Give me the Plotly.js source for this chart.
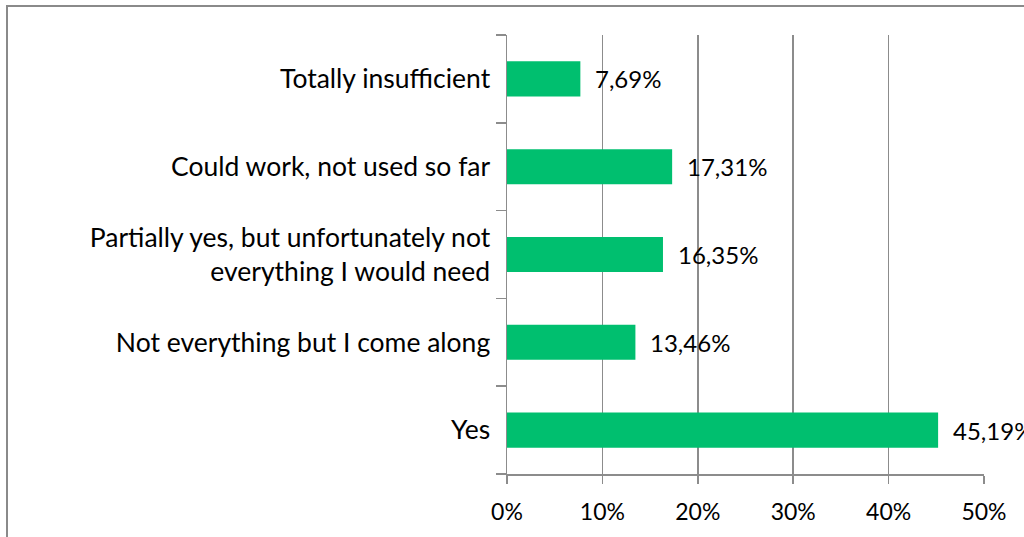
<!DOCTYPE html>
<html><head><meta charset="utf-8">
<script src="https://cdn.plot.ly/plotly-3.0.1.min.js"></script>
<style>
html,body{margin:0;padding:0;background:#fff;overflow:hidden}
#chart{position:absolute;left:0;top:0;width:1024px;height:537px}
#frame{position:absolute;left:6px;top:5px;width:1030px;height:545px;border:2px solid #8a8a8a;pointer-events:none}
</style></head>
<body>
<div id="chart"></div>
<div id="frame"></div>
<script>
const categories = ["Yes","Not everything but I come along","Partially yes, but unfortunately not<br>everything I would need","Could work, not used so far","Totally insufficient"];
const values = [45.19, 13.46, 16.35, 17.31, 7.69];
const valueLabels = ["45,19%","13,46%","16,35%","17,31%","7,69%"];
const tickVals = [0,10,20,30,40,50];
const tickText = ["0%","10%","20%","30%","40%","50%"];

const font = "Lato, 'Liberation Sans', sans-serif";
const trace = {
  type:"bar", orientation:"h", y:categories, x:values,
  marker:{color:"#00BF6F"}, hoverinfo:"none", cliponaxis:false
};
const annotations = values.map((v,i)=>({
  x:v, y:categories[i], xref:"x", yref:"y", text:valueLabels[i],
  showarrow:false, xanchor:"left", yanchor:"middle", xshift:13,
  font:{family:font,size:24,color:"#000"}
}));
const layout = {
  width:1024, height:537,
  margin:{l:507,r:40,t:35,b:63},
  paper_bgcolor:"#fff", plot_bgcolor:"#fff",
  bargap:0.6, showlegend:false,
  font:{family:font,color:"#000"},
  xaxis:{range:[0,50], tickvals:tickVals, ticktext:tickText, showgrid:true,
    gridcolor:"#8c8c8c", gridwidth:1.5, showline:true, linecolor:"#8c8c8c", linewidth:1.5,
    ticks:"outside", ticklen:8, tickcolor:"#8c8c8c", tickwidth:1.5,
    ticklabelstandoff:9,
    tickfont:{family:font,size:23,color:"#000"}, zeroline:false, fixedrange:true},
  yaxis:{type:"category", showgrid:false, showline:true, linecolor:"#8c8c8c", linewidth:1.5,
    ticks:"outside", tickson:"boundaries", ticklen:10, tickcolor:"#8c8c8c", tickwidth:1.5,
    ticklabelstandoff:10,
    tickfont:{family:font,size:26.5,color:"#000"}, fixedrange:true},
  annotations:annotations
};
Plotly.newPlot("chart",[trace],layout,{displayModeBar:false,staticPlot:true});
</script>
</body></html>
